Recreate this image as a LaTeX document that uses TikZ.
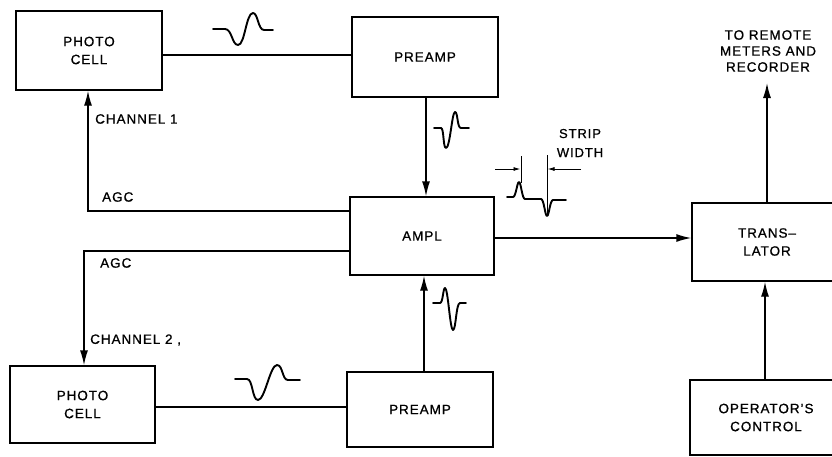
\documentclass[tikz,border=0pt]{standalone}
\usepackage{fontspec}
\setmainfont{Liberation Sans}[LetterSpace=7, FakeBold=0.8]
\usetikzlibrary{arrows.meta}
\begin{document}
\begin{tikzpicture}[x=1pt,y=-1pt,
  blk/.style={draw, line width=1.4pt, inner sep=0pt, align=center, font=\fontsize{13.5}{18}\selectfont},
  wire/.style={line width=1.4pt},
  arr/.style={wire, -{Latex[length=15pt,width=8pt]}},
  sarr/.style={line width=0.9pt, -{Latex[length=7pt,width=4pt]}},
  wave/.style={line width=1.9pt, line cap=round, line join=round},
  lbl/.style={font=\fontsize{13.5}{16}\selectfont, inner sep=0pt}]
\useasboundingbox (0,0) rectangle (832,456);
\clip (0,0) rectangle (832,456);
% blocks
\node[blk, minimum width=146pt, minimum height=79pt] (pc1) at (89,50.5) {PHOTO\\CELL};
\node[blk, minimum width=146pt, minimum height=80pt] (pa1) at (425,57) {PREAMP};
\node[blk, minimum width=144pt, minimum height=78pt] (ampl) at (422,236) {AMPL};
\node[blk, minimum width=145pt, minimum height=77pt] (pc2) at (82.5,404.5) {PHOTO\\CELL};
\node[blk, minimum width=146pt, minimum height=75pt] (pa2) at (420,409.5) {PREAMP};
\node[blk, minimum width=150pt, minimum height=78pt] (tr) at (767,242) {TRANS--\\LATOR};
\node[blk, minimum width=152pt, minimum height=75pt] (op) at (766,417.5) {OPERATOR'S\\CONTROL};
% labels
\node[lbl, align=center] (remote) at (768,51) {TO REMOTE\\METERS AND\\RECORDER};
\node[lbl, anchor=west] (ch1) at (95,119) {CHANNEL 1};
\node[lbl, anchor=west] (agc1) at (102,197) {AGC};
\node[lbl, anchor=west] (agc2) at (100,263) {AGC};
\node[lbl, anchor=west] (ch2) at (90,340) {CHANNEL 2 ,};
\node[lbl, align=center, font=\fontsize{13}{19}\selectfont] (strip) at (580,143) {STRIP\\WIDTH};
\coordinate (remtip) at (767,83);
% connectors
\draw[wire] (pc1.east |- 0,55) -- (pa1.west |- 0,55);
\draw[arr] (pa1.south -| 426,0) -- (ampl.north -| 426,0);
\draw[arr] (ampl.west |- 0,211) -| (pc1.south -| 88,0);
\draw[arr] (ampl.west |- 0,251) -| (pc2.north -| 84,0);
\draw[wire] (pc2.east |- 0,407) -- (pa2.west |- 0,407);
\draw[arr] (pa2.north -| 424,0) -- (ampl.south -| 424,0);
\draw[arr] (ampl.east |- 0,238) -- (tr.west |- 0,238);
\draw[arr] (op.north -| 765,0) -- (tr.south -| 765,0);
\draw[arr] (tr.north -| 767,0) -- (remtip);
% waveforms
\draw[wave] (213,29) -- (225,29) .. controls (232,29) and (232,45) .. (238,45) .. controls (245,45) and (246,13) .. (253,13) .. controls (258,13) and (258,30) .. (264,30) -- (273,30);
\draw[wave] (235,379) -- (247,379) .. controls (253,379) and (252,400) .. (258,400) .. controls (265,400) and (270,365) .. (277,365) .. controls (283,365) and (282,380) .. (288,380) -- (300,380);
\draw[wave] (434,128) -- (441,128) .. controls (444,128) and (443,148) .. (446,148) .. controls (450,148) and (452,112) .. (455,112) .. controls (458,112) and (457,128) .. (461,128) -- (469,128);
\draw[wave] (433,303) -- (440,303) .. controls (443,303) and (443,288) .. (445,288) .. controls (448,288) and (450,330) .. (453,330) .. controls (456,330) and (456,303) .. (460,303) -- (466,303);
% strip width sketch
\draw[wave] (507,197) -- (513,197) .. controls (516,197) and (517,182) .. (519,182) .. controls (521,182) and (522,199) .. (525,199) -- (541,199) .. controls (544,199) and (545,216) .. (547,216) .. controls (549,216) and (550,200) .. (553,200) -- (566,200);
\draw[line width=0.9pt] (521,156) -- (521,183);
\draw[line width=0.9pt] (547,155) -- (547,216);
\draw[sarr] (495,169) -- (520.5,169);
\draw[sarr] (581,169) -- (547.5,169);
\end{tikzpicture}
\end{document}
